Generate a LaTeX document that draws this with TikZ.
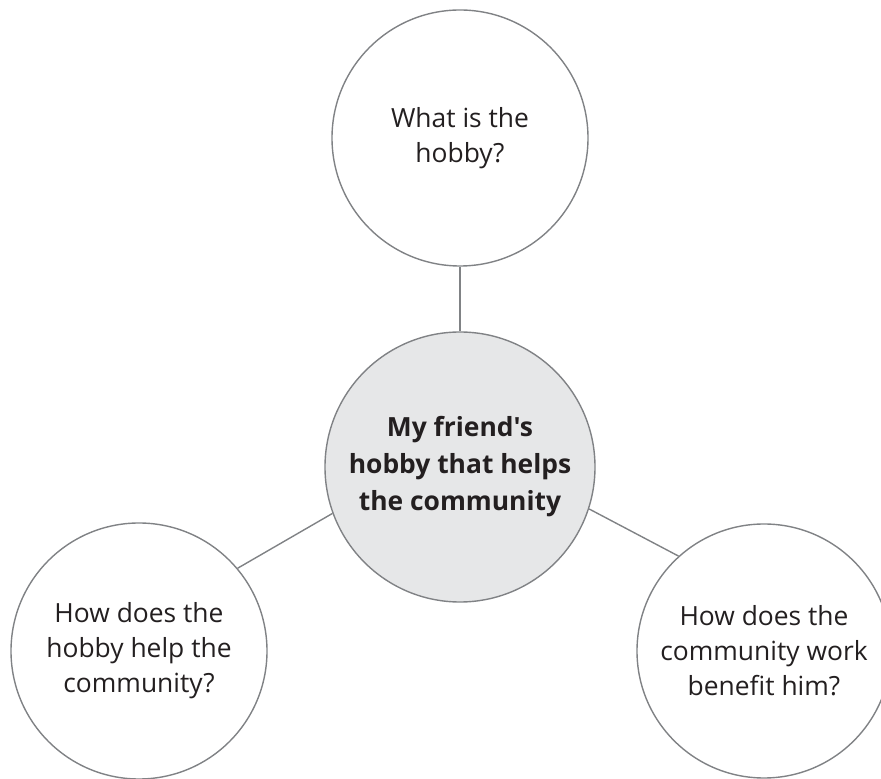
\documentclass[tikz,border=0pt]{standalone}
\usepackage{fontspec}
\setmainfont{Open Sans}[Ligatures=TeXOff]
\usetikzlibrary{positioning}
\definecolor{ringgray}{HTML}{808285}
\definecolor{hubfill}{HTML}{E6E7E8}
\definecolor{inkdark}{HTML}{231F20}

\begin{document}
\begin{tikzpicture}[x = 1pt, y = 1pt, on grid, line width = 1.4pt, bubble/.style = {draw = ringgray, circle, align = center, text = inkdark, font = \fontsize{26.4}{35}\selectfont, inner sep = 0pt}, hub/.style = {bubble, fill = hubfill, font = \fontsize{26.4}{37}\selectfont\bfseries, minimum size = 270pt}, link/.style = {draw = ringgray}]
\useasboundingbox (0,0) rectangle (881,779);
\clip (0,0) rectangle (881,779);
\node[hub] (hub) at (460,312) {My friend's\\hobby that helps\\the community};
\node[bubble, minimum size = 256pt, above = 329pt of hub] (what) {What is the\\hobby?};
\node[bubble, minimum size = 256pt, below left = 184pt and 321pt of hub] (help) {How does the\\hobby help the\\community?};
\node[bubble, minimum size = 254pt, below right = 184pt and 304pt of hub] (gain) {How does the\\community work\\benefit him?};

\path[link] (what.south) edge (hub.north);
\path[link] (hub.200) edge (help.40);
\path[link] (hub.342) edge (gain.132);
\end{tikzpicture}
\end{document}
